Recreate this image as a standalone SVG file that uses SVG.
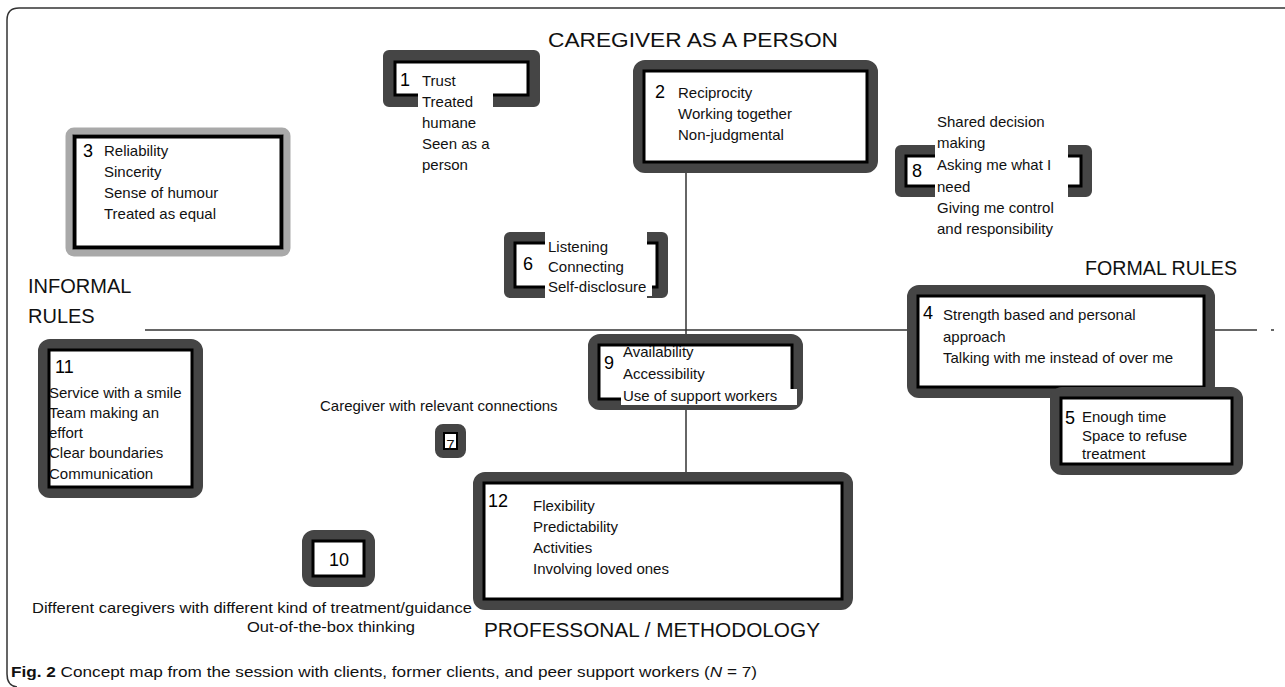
<svg xmlns="http://www.w3.org/2000/svg" width="1285" height="687" viewBox="0 0 1285 687">
<style>
.t{font-family:"Liberation Sans",Arial,sans-serif;font-size:15px;fill:#111}
.n{font-family:"Liberation Sans",Arial,sans-serif;font-size:18px;fill:#000}
.h{font-family:"Liberation Sans",Arial,sans-serif;font-size:20px;fill:#111}
.g{fill:#fff;stroke:#454545;stroke-width:10}
.b{fill:none;stroke:#000;stroke-width:3}
.gp{fill:none;stroke:#454545;stroke-width:12;stroke-linejoin:round}
.bp{fill:none;stroke:#000;stroke-width:3}
.ax{stroke:#333;stroke-width:1.5;fill:none}
</style>
<rect width="1285" height="687" fill="#fff"/>
<path d="M1285,8 H19 Q7,8 7,20 V674 Q7,686 17,687" fill="none" stroke="#333" stroke-width="1.5"/>
<g id="connectors">
<line class="ax" x1="145" y1="330" x2="907" y2="330"/>
<line class="ax" x1="1215" y1="330" x2="1257" y2="330"/>
<line class="ax" x1="1271" y1="330" x2="1274" y2="330"/>
<line class="ax" x1="686" y1="173" x2="686" y2="334"/>
<line class="ax" x1="686" y1="410" x2="686" y2="472"/>
</g>
<g id="labels">
<text class="h" x="548" y="47" textLength="290" lengthAdjust="spacingAndGlyphs">CAREGIVER AS A PERSON</text>
<text class="h" x="28" y="293">INFORMAL</text>
<text class="h" x="28" y="323">RULES</text>
<text class="h" x="1085" y="275" textLength="152" lengthAdjust="spacingAndGlyphs">FORMAL RULES</text>
<text class="h" x="484" y="637" textLength="336" lengthAdjust="spacingAndGlyphs">PROFESSONAL / METHODOLOGY</text>
</g>
<g id="node1">
<path class="gp" d="M418,101 H389 V56 H534 V101 H493"/>
<path class="bp" d="M418,95 H395 V62 H528 V95 H493"/>
<text class="n" x="400" y="86">1</text>
<text class="t" x="422" y="86">Trust</text>
<text class="t" x="422" y="107">Treated</text>
<text class="t" x="422" y="128">humane</text>
<text class="t" x="422" y="149">Seen as a</text>
<text class="t" x="422" y="170">person</text>
</g>
<g id="node2">
<rect class="g" x="638" y="65" width="235" height="103" rx="7"/>
<rect class="b" x="644" y="71" width="223" height="91"/>
<text class="n" x="655" y="98">2</text>
<text class="t" x="678" y="98">Reciprocity</text>
<text class="t" x="678" y="119">Working together</text>
<text class="t" x="678" y="140">Non-judgmental</text>
</g>
<g id="node3">
<rect x="69" y="131" width="218" height="122" rx="5" fill="#fff" stroke="#a9a9a9" stroke-width="7"/>
<rect x="74.5" y="136.5" width="207" height="111" fill="none" stroke="#000" stroke-width="4"/>
<text class="n" x="83" y="157">3</text>
<text class="t" x="104" y="156">Reliability</text>
<text class="t" x="104" y="177">Sincerity</text>
<text class="t" x="104" y="198">Sense of humour</text>
<text class="t" x="104" y="219">Treated as equal</text>
</g>
<g id="node8">
<path class="gp" d="M935,151 H901 V191 H935"/>
<path class="bp" d="M935,156 H906 V186 H935"/>
<path class="gp" d="M1068,151 H1086 V191 H1068"/>
<path class="bp" d="M1068,156 H1081 V186 H1068"/>
<text class="n" x="912" y="177">8</text>
<text class="t" x="937" y="127">Shared decision</text>
<text class="t" x="937" y="148">making</text>
<text class="t" x="937" y="170">Asking me what I</text>
<text class="t" x="937" y="192">need</text>
<text class="t" x="937" y="213">Giving me control</text>
<text class="t" x="937" y="234">and responsibility</text>
</g>
<g id="node6">
<path class="gp" d="M545,238 H510 V292 H545"/>
<path class="bp" d="M545,243 H515 V287 H545"/>
<path class="gp" d="M647,238 H662 V292 H647"/>
<path class="bp" d="M647,243 H657 V287 H647"/>
<rect x="546" y="280" width="106" height="16" fill="#fff"/>
<text class="n" x="523" y="270">6</text>
<text class="t" x="548" y="252">Listening</text>
<text class="t" x="548" y="272">Connecting</text>
<text class="t" x="548" y="292">Self-disclosure</text>
</g>
<g id="node4">
<rect class="g" x="912" y="290" width="298" height="103" rx="7"/>
<rect class="b" x="918" y="296" width="286" height="91"/>
<text class="n" x="923" y="319">4</text>
<text class="t" x="943" y="320">Strength based and personal</text>
<text class="t" x="943" y="342">approach</text>
<text class="t" x="943" y="363">Talking with me instead of over me</text>
</g>
<g id="node5">
<rect class="g" x="1055" y="392" width="183" height="78" rx="7"/>
<rect class="b" x="1061" y="398" width="171" height="66"/>
<text class="n" x="1065" y="424">5</text>
<text class="t" x="1082" y="422">Enough time</text>
<text class="t" x="1082" y="441">Space to refuse</text>
<text class="t" x="1082" y="459">treatment</text>
</g>
<g id="node9">
<rect class="g" x="593" y="339" width="205" height="66" rx="7"/>
<rect class="b" x="599" y="345" width="193" height="54"/>
<rect x="621" y="389" width="176" height="16" fill="#fff"/>
<text class="n" x="604" y="369">9</text>
<text class="t" x="623" y="357">Availability</text>
<text class="t" x="623" y="379">Accessibility</text>
<text class="t" x="623" y="401">Use of support workers</text>
</g>
<g id="node7">
<text class="t" x="320" y="411">Caregiver with relevant connections</text>
<rect x="439" y="428" width="23" height="26" rx="4" fill="#fff" stroke="#454545" stroke-width="8"/>
<rect x="444" y="433" width="13" height="16" fill="none" stroke="#000" stroke-width="2"/>
<text class="t" x="450.5" y="450" font-size="17" text-anchor="middle">7</text>
</g>
<g id="node11">
<rect class="g" x="43" y="344" width="155" height="149" rx="7"/>
<rect class="b" x="49" y="350" width="143" height="137"/>
<text class="n" x="55" y="373" font-size="19">11</text>
<text class="t" x="49" y="398">Service with a smile</text>
<text class="t" x="49" y="418">Team making an</text>
<text class="t" x="49" y="438">effort</text>
<text class="t" x="49" y="458">Clear boundaries</text>
<text class="t" x="49" y="479">Communication</text>
</g>
<g id="node12">
<rect class="g" x="478" y="477" width="370" height="128" rx="7"/>
<rect class="b" x="484" y="483" width="358" height="116"/>
<text class="n" x="488" y="507" font-size="20">12</text>
<text class="t" x="533" y="511">Flexibility</text>
<text class="t" x="533" y="532">Predictability</text>
<text class="t" x="533" y="553">Activities</text>
<text class="t" x="533" y="574">Involving loved ones</text>
</g>
<g id="node10">
<rect class="g" x="307" y="535" width="63" height="47" rx="7"/>
<rect class="b" x="313" y="541" width="51" height="35"/>
<text class="n" x="339" y="566" font-size="19" text-anchor="middle">10</text>
<text class="t" x="32" y="613" textLength="440" lengthAdjust="spacingAndGlyphs">Different caregivers with different kind of treatment/guidance</text>
<text class="t" x="247" y="632" textLength="168" lengthAdjust="spacingAndGlyphs">Out-of-the-box thinking</text>
</g>
<g id="caption">
<text class="t" x="11" y="677" textLength="746" lengthAdjust="spacingAndGlyphs"><tspan font-weight="bold">Fig. 2</tspan> Concept map from the session with clients, former clients, and peer support workers (<tspan font-style="italic">N</tspan> = 7)</text>
</g>
</svg>
